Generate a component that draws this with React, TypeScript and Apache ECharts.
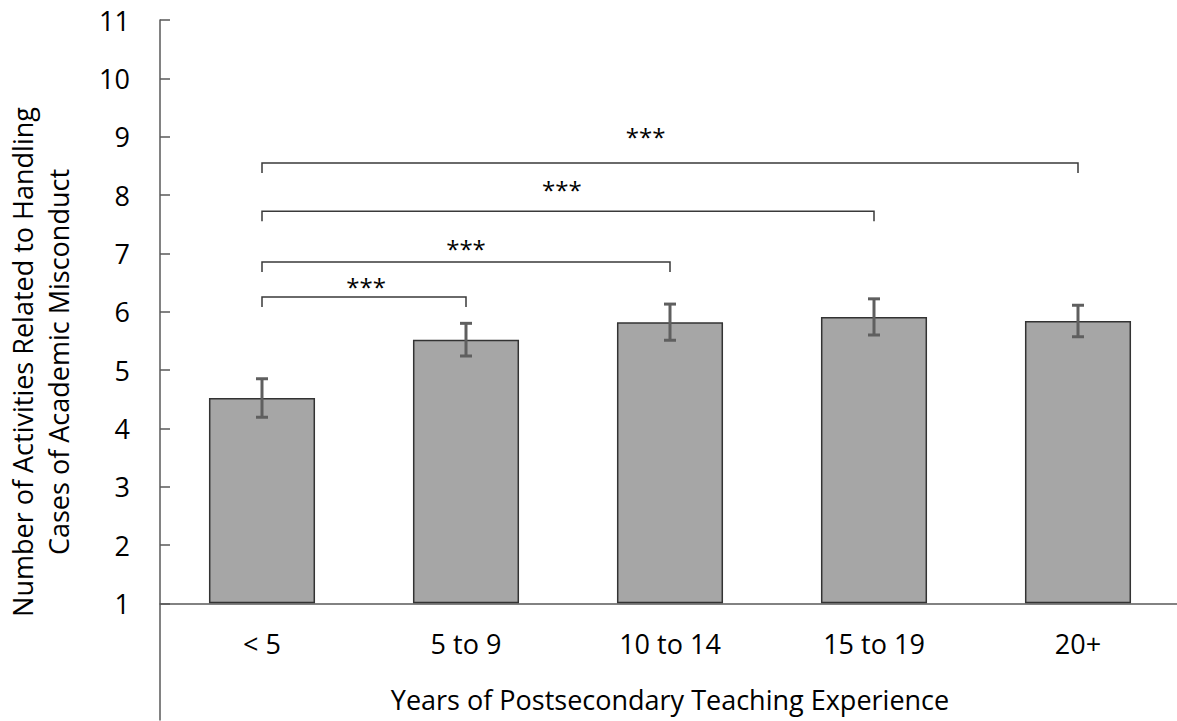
import React, { useEffect, useRef } from "react";
import * as echarts from "echarts";

const categories = ["< 5", "5 to 9", "10 to 14", "15 to 19", "20+"];
const means = [4.52, 5.52, 5.82, 5.91, 5.84];
const errors = [0.33, 0.28, 0.31, 0.31, 0.27];
const yTicks = [1, 2, 3, 4, 5, 6, 7, 8, 9, 10, 11];
const baseline = 1;

// significance brackets: from category `bracketStarts[i]` to category `bracketEnds[i]`
const bracketStarts = [0, 0, 0, 0];
const bracketEnds = [1, 2, 3, 4];
const bracketHeights = [6.25, 6.85, 7.72, 8.55];
const bracketLabels = ["***", "***", "***", "***"];
const labelHeights = [6.49, 7.14, 8.14, 9.06];
const labelFractions = [0.51, 0.5, 0.49, 0.47];

const FONT = "'Open Sans', sans-serif";

export default function App() {
  const ref = useRef<HTMLDivElement>(null);

  useEffect(() => {
    if (!ref.current) return;
    const chart = echarts.init(ref.current, null, { renderer: "svg" });

    const gridTop = 20;
    const gridHeight = 700;
    const yMin = -1;
    const yMax = 11;
    const axisOffset = -(gridHeight * (baseline - yMin)) / (yMax - yMin);

    const option: any = {
      animation: false,
      backgroundColor: "#ffffff",
      textStyle: { fontFamily: FONT },
      grid: {
        left: 160,
        right: 20,
        top: gridTop,
        height: gridHeight,
        containLabel: false,
        outerBoundsMode: "none",
      },
      xAxis: {
        type: "category",
        data: categories,
        offset: axisOffset,
        axisLine: { show: true, onZero: false, lineStyle: { color: "#595959", width: 1.5 } },
        axisTick: { show: false },
        axisLabel: { color: "#000", fontSize: 27, fontFamily: FONT, margin: 27 },
        name: "Years of Postsecondary Teaching Experience",
        nameLocation: "middle",
        nameGap: 83,
        nameTextStyle: { color: "#000", fontSize: 27, fontFamily: FONT },
      },
      yAxis: {
        type: "value",
        min: yMin,
        max: yMax,
        interval: 1,
        splitLine: { show: false },
        axisLine: { show: true, lineStyle: { color: "#595959", width: 1.5 } },
        axisTick: {
          show: true,
          inside: true,
          length: 10,
          customValues: yTicks,
          lineStyle: { color: "#595959", width: 1.5 },
        },
        axisLabel: {
          color: "#000",
          fontSize: 27,
          fontFamily: FONT,
          margin: 30,
          customValues: yTicks,
        },
        name: "Number of Activities Related to Handling\nCases of Academic Misconduct",
        nameLocation: "middle",
        nameGap: 84,
        nameTextStyle: {
          color: "#000",
          fontSize: 27,
          fontFamily: FONT,
          lineHeight: 36,
          padding: [0, 0, 0, 16],
        },
      },
      series: [
        {
          type: "bar",
          stack: "bars",
          data: categories.map(() => baseline),
          barWidth: "52%",
          itemStyle: { color: "transparent" },
          silent: true,
        },
        {
          type: "bar",
          stack: "bars",
          data: means.map((m) => m - baseline),
          barWidth: "52%",
          itemStyle: { color: "#a6a6a6", borderColor: "#333333", borderWidth: 1.5 },
        },
        {
          type: "custom",
          data: means.map((m, i) => [i, m, errors[i]]),
          renderItem: (params: any, api: any) => {
            const i = api.value(0);
            const m = api.value(1);
            const e = api.value(2);
            const top = api.coord([i, m + e]);
            const bot = api.coord([i, m - e]);
            const cap = 6;
            const style = { stroke: "#5f5f5f", lineWidth: 3 };
            return {
              type: "group",
              children: [
                { type: "line", shape: { x1: top[0], y1: top[1], x2: bot[0], y2: bot[1] }, style },
                { type: "line", shape: { x1: top[0] - cap, y1: top[1], x2: top[0] + cap, y2: top[1] }, style },
                { type: "line", shape: { x1: bot[0] - cap, y1: bot[1], x2: bot[0] + cap, y2: bot[1] }, style },
              ],
            };
          },
          z: 5,
        },
        {
          type: "custom",
          data: bracketHeights.map((h, i) => [bracketStarts[i], bracketEnds[i], h, labelHeights[i], labelFractions[i]]),
          renderItem: (params: any, api: any) => {
            const s = api.value(0);
            const e = api.value(1);
            const h = api.value(2);
            const lh = api.value(3);
            const f = api.value(4);
            const p1 = api.coord([s, h]);
            const p2 = api.coord([e, h]);
            const lp = api.coord([s, lh]);
            const drop = 10;
            const lx = p1[0] + f * (p2[0] - p1[0]);
            return {
              type: "group",
              children: [
                {
                  type: "polyline",
                  shape: {
                    points: [
                      [p1[0], p1[1] + drop],
                      [p1[0], p1[1]],
                      [p2[0], p2[1]],
                      [p2[0], p2[1] + drop],
                    ],
                  },
                  style: { stroke: "#3a3a3a", lineWidth: 1.5, fill: "none" },
                },
                {
                  type: "text",
                  x: lx,
                  y: lp[1] + 3,
                  style: {
                    text: bracketLabels[params.dataIndex],
                    fill: "#000",
                    font: `24px ${FONT}`,
                    align: "center",
                    verticalAlign: "middle",
                  },
                },
              ],
            };
          },
          z: 6,
        },
      ],
    };

    chart.setOption(option);
    return () => chart.dispose();
  }, []);

  return (
    <div
      ref={ref}
      style={{ position: "absolute", left: 0, top: 0, width: 1200, height: 721 }}
    />
  );
}
